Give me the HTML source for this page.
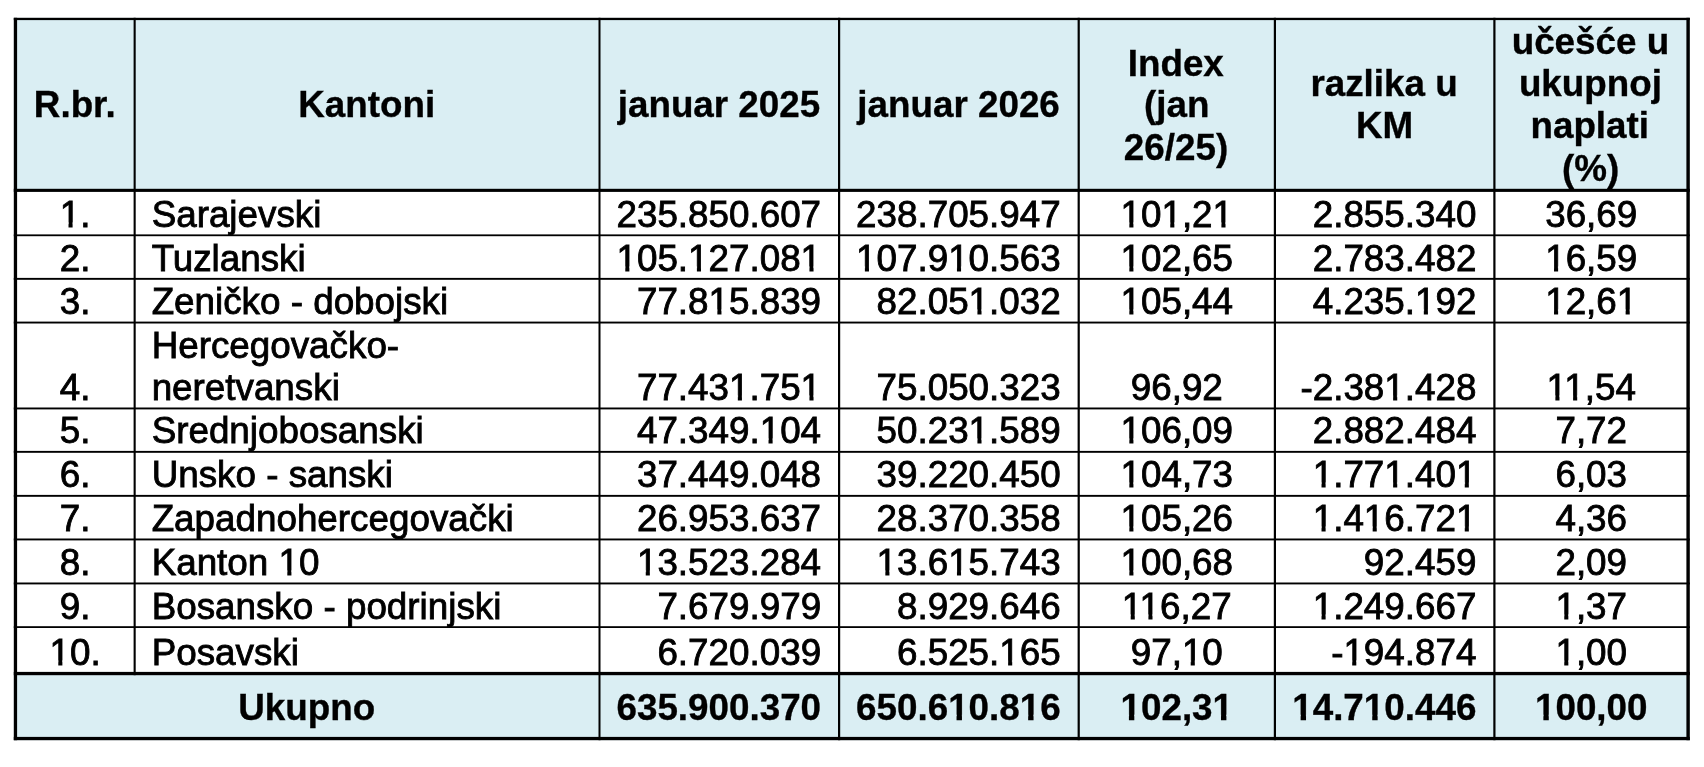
<!DOCTYPE html>
<html lang="bs">
<head>
<meta charset="utf-8">
<title>Naplata po kantonima</title>
<style>
html,body{margin:0;padding:0;background:#fff;}
body{width:1704px;height:767px;position:relative;overflow:hidden;font-family:"Liberation Sans",sans-serif;color:#000;}
#g,#tx{position:absolute;left:0;top:0;width:1704px;height:767px;}
#tx{will-change:transform;}
.t{position:absolute;white-space:nowrap;-webkit-text-stroke:0.85px #000;font-size:36.8px;line-height:42.0px;height:42.0px;margin:0;padding:0;}
.b{font-weight:bold;-webkit-text-stroke:0.35px #000;}
.c{text-align:center;}
.r{text-align:right;}
.l{text-align:left;}
</style>
</head>
<body>
<svg id="g" width="1704" height="767" viewBox="0 0 1704 767">
<rect x="13.8" y="17.8" width="1676" height="174.1" fill="#daeef3"/>
<rect x="13.8" y="671.9" width="1676" height="68.3" fill="#daeef3"/>
<g fill="#000">
<rect x="13.8" y="17.8" width="1676" height="2.3"/>
<rect x="13.8" y="188.8" width="1676" height="3.1"/>
<rect x="13.8" y="234.4" width="1676" height="1.8"/>
<rect x="13.8" y="277.9" width="1676" height="1.9"/>
<rect x="13.8" y="321.6" width="1676" height="1.9"/>
<rect x="13.8" y="407.5" width="1676" height="1.9"/>
<rect x="13.8" y="450.9" width="1676" height="1.9"/>
<rect x="13.8" y="494.9" width="1676" height="1.9"/>
<rect x="13.8" y="538.5" width="1676" height="1.9"/>
<rect x="13.8" y="582.5" width="1676" height="1.9"/>
<rect x="13.8" y="626.2" width="1676" height="1.8"/>
<rect x="13.8" y="671.9" width="1676" height="3.3"/>
<rect x="13.8" y="736.9" width="1676" height="3.3"/>
<rect x="13.8" y="17.8" width="3.3" height="722.4"/>
<rect x="133.6" y="17.8" width="2.1" height="657.4"/>
<rect x="598.5" y="17.8" width="2" height="722.4"/>
<rect x="838" y="17.8" width="2.2" height="722.4"/>
<rect x="1077.6" y="17.8" width="2.2" height="722.4"/>
<rect x="1273.8" y="17.8" width="2.2" height="722.4"/>
<rect x="1493.3" y="17.8" width="2.2" height="722.4"/>
<rect x="1686.4" y="17.8" width="3.4" height="722.4"/>
</g></svg>
<div id="tx">
<div class="t c b" style="left:15.15px;top:84px;width:119.20px">R.br.</div>
<div class="t c b" style="left:134.25px;top:84px;width:464.85px">Kantoni</div>
<div class="t c b" style="left:599.20px;top:84px;width:239.60px">januar 2025</div>
<div class="t c b" style="left:838.80px;top:84px;width:239.60px">januar 2026</div>
<div class="t c b" style="left:1077.70px;top:43px;width:196.20px">Index</div>
<div class="t c b" style="left:1078.60px;top:84px;width:196.20px">(jan</div>
<div class="t c b" style="left:1077.90px;top:127px;width:196.20px">26/25)</div>
<div class="t c b" style="left:1274.30px;top:63px;width:219.50px">razlika u</div>
<div class="t c b" style="left:1274.90px;top:105px;width:219.50px">KM</div>
<div class="t c b" style="left:1493.60px;top:21px;width:193.70px">učešće u</div>
<div class="t c b" style="left:1493.60px;top:63px;width:193.70px">ukupnoj</div>
<div class="t c b" style="left:1492.90px;top:105px;width:193.70px">naplati</div>
<div class="t c b" style="left:1493.70px;top:148px;width:193.70px">(%)</div>
<div class="t l" style="left:151.65px;top:325px;width:447.85px">Hercegovačko-</div>
<div class="t c" style="left:15.45px;top:194px;width:119.20px">1.</div>
<div class="t l" style="left:151.65px;top:194px;width:447.85px">Sarajevski</div>
<div class="t r" style="left:599.50px;top:194px;width:221.60px">235.850.607</div>
<div class="t r" style="left:839.10px;top:194px;width:221.60px">238.705.947</div>
<div class="t c" style="left:1078.70px;top:194px;width:196.20px">101,21</div>
<div class="t r" style="left:1274.90px;top:194px;width:201.50px">2.855.340</div>
<div class="t c" style="left:1494.40px;top:194px;width:193.70px">36,69</div>
<div class="t c" style="left:15.45px;top:238px;width:119.20px">2.</div>
<div class="t l" style="left:151.65px;top:238px;width:447.85px">Tuzlanski</div>
<div class="t r" style="left:599.50px;top:238px;width:221.60px">105.127.081</div>
<div class="t r" style="left:839.10px;top:238px;width:221.60px">107.910.563</div>
<div class="t c" style="left:1078.70px;top:238px;width:196.20px">102,65</div>
<div class="t r" style="left:1274.90px;top:238px;width:201.50px">2.783.482</div>
<div class="t c" style="left:1494.40px;top:238px;width:193.70px">16,59</div>
<div class="t c" style="left:15.45px;top:281px;width:119.20px">3.</div>
<div class="t l" style="left:151.65px;top:281px;width:447.85px">Zeničko - dobojski</div>
<div class="t r" style="left:599.50px;top:281px;width:221.60px">77.815.839</div>
<div class="t r" style="left:839.10px;top:281px;width:221.60px">82.051.032</div>
<div class="t c" style="left:1078.70px;top:281px;width:196.20px">105,44</div>
<div class="t r" style="left:1274.90px;top:281px;width:201.50px">4.235.192</div>
<div class="t c" style="left:1494.40px;top:281px;width:193.70px">12,61</div>
<div class="t c" style="left:15.45px;top:367px;width:119.20px">4.</div>
<div class="t l" style="left:151.65px;top:367px;width:447.85px">neretvanski</div>
<div class="t r" style="left:599.50px;top:367px;width:221.60px">77.431.751</div>
<div class="t r" style="left:839.10px;top:367px;width:221.60px">75.050.323</div>
<div class="t c" style="left:1078.70px;top:367px;width:196.20px">96,92</div>
<div class="t r" style="left:1274.90px;top:367px;width:201.50px">-2.381.428</div>
<div class="t c" style="left:1494.40px;top:367px;width:193.70px">11,54</div>
<div class="t c" style="left:15.45px;top:410px;width:119.20px">5.</div>
<div class="t l" style="left:151.65px;top:410px;width:447.85px">Srednjobosanski</div>
<div class="t r" style="left:599.50px;top:410px;width:221.60px">47.349.104</div>
<div class="t r" style="left:839.10px;top:410px;width:221.60px">50.231.589</div>
<div class="t c" style="left:1078.70px;top:410px;width:196.20px">106,09</div>
<div class="t r" style="left:1274.90px;top:410px;width:201.50px">2.882.484</div>
<div class="t c" style="left:1494.40px;top:410px;width:193.70px">7,72</div>
<div class="t c" style="left:15.45px;top:454px;width:119.20px">6.</div>
<div class="t l" style="left:151.65px;top:454px;width:447.85px">Unsko - sanski</div>
<div class="t r" style="left:599.50px;top:454px;width:221.60px">37.449.048</div>
<div class="t r" style="left:839.10px;top:454px;width:221.60px">39.220.450</div>
<div class="t c" style="left:1078.70px;top:454px;width:196.20px">104,73</div>
<div class="t r" style="left:1274.90px;top:454px;width:201.50px">1.771.401</div>
<div class="t c" style="left:1494.40px;top:454px;width:193.70px">6,03</div>
<div class="t c" style="left:15.45px;top:498px;width:119.20px">7.</div>
<div class="t l" style="left:151.65px;top:498px;width:447.85px">Zapadnohercegovački</div>
<div class="t r" style="left:599.50px;top:498px;width:221.60px">26.953.637</div>
<div class="t r" style="left:839.10px;top:498px;width:221.60px">28.370.358</div>
<div class="t c" style="left:1078.70px;top:498px;width:196.20px">105,26</div>
<div class="t r" style="left:1274.90px;top:498px;width:201.50px">1.416.721</div>
<div class="t c" style="left:1494.40px;top:498px;width:193.70px">4,36</div>
<div class="t c" style="left:15.45px;top:542px;width:119.20px">8.</div>
<div class="t l" style="left:151.65px;top:542px;width:447.85px">Kanton 10</div>
<div class="t r" style="left:599.50px;top:542px;width:221.60px">13.523.284</div>
<div class="t r" style="left:839.10px;top:542px;width:221.60px">13.615.743</div>
<div class="t c" style="left:1078.70px;top:542px;width:196.20px">100,68</div>
<div class="t r" style="left:1274.90px;top:542px;width:201.50px">92.459</div>
<div class="t c" style="left:1494.40px;top:542px;width:193.70px">2,09</div>
<div class="t c" style="left:15.45px;top:586px;width:119.20px">9.</div>
<div class="t l" style="left:151.65px;top:586px;width:447.85px">Bosansko - podrinjski</div>
<div class="t r" style="left:599.50px;top:586px;width:221.60px">7.679.979</div>
<div class="t r" style="left:839.10px;top:586px;width:221.60px">8.929.646</div>
<div class="t c" style="left:1078.70px;top:586px;width:196.20px">116,27</div>
<div class="t r" style="left:1274.90px;top:586px;width:201.50px">1.249.667</div>
<div class="t c" style="left:1494.40px;top:586px;width:193.70px">1,37</div>
<div class="t c" style="left:15.45px;top:632px;width:119.20px">10.</div>
<div class="t l" style="left:151.65px;top:632px;width:447.85px">Posavski</div>
<div class="t r" style="left:599.50px;top:632px;width:221.60px">6.720.039</div>
<div class="t r" style="left:839.10px;top:632px;width:221.60px">6.525.165</div>
<div class="t c" style="left:1078.70px;top:632px;width:196.20px">97,10</div>
<div class="t r" style="left:1274.90px;top:632px;width:201.50px">-194.874</div>
<div class="t c" style="left:1494.40px;top:632px;width:193.70px">1,00</div>
<div class="t c b" style="left:14.65px;top:687px;width:584.05px">Ukupno</div>
<div class="t r b" style="left:599.50px;top:687px;width:221.60px">635.900.370</div>
<div class="t r b" style="left:839.10px;top:687px;width:221.60px">650.610.816</div>
<div class="t c b" style="left:1078.70px;top:687px;width:196.20px">102,31</div>
<div class="t r b" style="left:1274.90px;top:687px;width:201.50px">14.710.446</div>
<div class="t c b" style="left:1494.40px;top:687px;width:193.70px">100,00</div>
</div>
<svg id="m" width="1704" height="767" viewBox="0 0 1704 767" style="position:absolute;left:0;top:0">
<rect x="60.65" y="222.43" width="7.85" height="6.40" fill="#ffffff"/>
<rect x="72.60" y="222.43" width="7.56" height="6.40" fill="#ffffff"/>
<rect x="1121.48" y="222.43" width="7.85" height="6.40" fill="#ffffff"/>
<rect x="1133.43" y="222.43" width="7.56" height="6.40" fill="#ffffff"/>
<rect x="1162.40" y="222.43" width="7.85" height="6.40" fill="#ffffff"/>
<rect x="1174.35" y="222.43" width="7.56" height="6.40" fill="#ffffff"/>
<rect x="1213.56" y="222.43" width="7.85" height="6.40" fill="#ffffff"/>
<rect x="1225.51" y="222.43" width="7.56" height="6.40" fill="#ffffff"/>
<rect x="617.43" y="266.43" width="7.85" height="6.40" fill="#ffffff"/>
<rect x="629.38" y="266.43" width="7.56" height="6.40" fill="#ffffff"/>
<rect x="689.04" y="266.43" width="7.85" height="6.40" fill="#ffffff"/>
<rect x="700.99" y="266.43" width="7.56" height="6.40" fill="#ffffff"/>
<rect x="801.59" y="266.43" width="7.85" height="6.40" fill="#ffffff"/>
<rect x="813.54" y="266.43" width="7.56" height="6.40" fill="#ffffff"/>
<rect x="857.03" y="266.43" width="7.85" height="6.40" fill="#ffffff"/>
<rect x="868.98" y="266.43" width="7.56" height="6.40" fill="#ffffff"/>
<rect x="949.10" y="266.43" width="7.85" height="6.40" fill="#ffffff"/>
<rect x="961.06" y="266.43" width="7.56" height="6.40" fill="#ffffff"/>
<rect x="1121.48" y="266.43" width="7.85" height="6.40" fill="#ffffff"/>
<rect x="1133.43" y="266.43" width="7.56" height="6.40" fill="#ffffff"/>
<rect x="1546.17" y="266.43" width="7.85" height="6.40" fill="#ffffff"/>
<rect x="1558.12" y="266.43" width="7.56" height="6.40" fill="#ffffff"/>
<rect x="709.51" y="309.43" width="7.85" height="6.40" fill="#ffffff"/>
<rect x="721.46" y="309.43" width="7.56" height="6.40" fill="#ffffff"/>
<rect x="969.57" y="309.43" width="7.85" height="6.40" fill="#ffffff"/>
<rect x="981.52" y="309.43" width="7.56" height="6.40" fill="#ffffff"/>
<rect x="1121.48" y="309.43" width="7.85" height="6.40" fill="#ffffff"/>
<rect x="1133.43" y="309.43" width="7.56" height="6.40" fill="#ffffff"/>
<rect x="1415.96" y="309.43" width="7.85" height="6.40" fill="#ffffff"/>
<rect x="1427.92" y="309.43" width="7.56" height="6.40" fill="#ffffff"/>
<rect x="1546.17" y="309.43" width="7.85" height="6.40" fill="#ffffff"/>
<rect x="1558.12" y="309.43" width="7.56" height="6.40" fill="#ffffff"/>
<rect x="1617.77" y="309.43" width="7.85" height="6.40" fill="#ffffff"/>
<rect x="1629.73" y="309.43" width="7.56" height="6.40" fill="#ffffff"/>
<rect x="729.98" y="395.43" width="7.85" height="6.40" fill="#ffffff"/>
<rect x="741.93" y="395.43" width="7.56" height="6.40" fill="#ffffff"/>
<rect x="801.59" y="395.43" width="7.85" height="6.40" fill="#ffffff"/>
<rect x="813.54" y="395.43" width="7.56" height="6.40" fill="#ffffff"/>
<rect x="1385.27" y="395.43" width="7.85" height="6.40" fill="#ffffff"/>
<rect x="1397.23" y="395.43" width="7.56" height="6.40" fill="#ffffff"/>
<rect x="1547.52" y="395.43" width="7.85" height="6.40" fill="#ffffff"/>
<rect x="1559.48" y="395.43" width="7.56" height="6.40" fill="#ffffff"/>
<rect x="1565.24" y="395.43" width="7.85" height="6.40" fill="#ffffff"/>
<rect x="1577.20" y="395.43" width="7.56" height="6.40" fill="#ffffff"/>
<rect x="760.67" y="438.43" width="7.85" height="6.40" fill="#ffffff"/>
<rect x="772.62" y="438.43" width="7.56" height="6.40" fill="#ffffff"/>
<rect x="969.57" y="438.43" width="7.85" height="6.40" fill="#ffffff"/>
<rect x="981.52" y="438.43" width="7.56" height="6.40" fill="#ffffff"/>
<rect x="1121.48" y="438.43" width="7.85" height="6.40" fill="#ffffff"/>
<rect x="1133.43" y="438.43" width="7.56" height="6.40" fill="#ffffff"/>
<rect x="1121.48" y="482.43" width="7.85" height="6.40" fill="#ffffff"/>
<rect x="1133.43" y="482.43" width="7.56" height="6.40" fill="#ffffff"/>
<rect x="1313.67" y="482.43" width="7.85" height="6.40" fill="#ffffff"/>
<rect x="1325.62" y="482.43" width="7.56" height="6.40" fill="#ffffff"/>
<rect x="1385.27" y="482.43" width="7.85" height="6.40" fill="#ffffff"/>
<rect x="1397.23" y="482.43" width="7.56" height="6.40" fill="#ffffff"/>
<rect x="1456.90" y="482.43" width="7.85" height="6.40" fill="#ffffff"/>
<rect x="1468.85" y="482.43" width="7.56" height="6.40" fill="#ffffff"/>
<rect x="1121.48" y="526.43" width="7.85" height="6.40" fill="#ffffff"/>
<rect x="1133.43" y="526.43" width="7.56" height="6.40" fill="#ffffff"/>
<rect x="1313.67" y="526.43" width="7.85" height="6.40" fill="#ffffff"/>
<rect x="1325.62" y="526.43" width="7.56" height="6.40" fill="#ffffff"/>
<rect x="1364.81" y="526.43" width="7.85" height="6.40" fill="#ffffff"/>
<rect x="1376.76" y="526.43" width="7.56" height="6.40" fill="#ffffff"/>
<rect x="1456.90" y="526.43" width="7.85" height="6.40" fill="#ffffff"/>
<rect x="1468.85" y="526.43" width="7.56" height="6.40" fill="#ffffff"/>
<rect x="279.46" y="570.43" width="7.85" height="6.40" fill="#ffffff"/>
<rect x="291.42" y="570.43" width="7.56" height="6.40" fill="#ffffff"/>
<rect x="637.90" y="570.43" width="7.85" height="6.40" fill="#ffffff"/>
<rect x="649.85" y="570.43" width="7.56" height="6.40" fill="#ffffff"/>
<rect x="877.49" y="570.43" width="7.85" height="6.40" fill="#ffffff"/>
<rect x="889.45" y="570.43" width="7.56" height="6.40" fill="#ffffff"/>
<rect x="949.10" y="570.43" width="7.85" height="6.40" fill="#ffffff"/>
<rect x="961.06" y="570.43" width="7.56" height="6.40" fill="#ffffff"/>
<rect x="1121.48" y="570.43" width="7.85" height="6.40" fill="#ffffff"/>
<rect x="1133.43" y="570.43" width="7.56" height="6.40" fill="#ffffff"/>
<rect x="1122.84" y="614.43" width="7.85" height="6.40" fill="#ffffff"/>
<rect x="1134.79" y="614.43" width="7.56" height="6.40" fill="#ffffff"/>
<rect x="1140.56" y="614.43" width="7.85" height="6.40" fill="#ffffff"/>
<rect x="1152.51" y="614.43" width="7.56" height="6.40" fill="#ffffff"/>
<rect x="1313.67" y="614.43" width="7.85" height="6.40" fill="#ffffff"/>
<rect x="1325.62" y="614.43" width="7.56" height="6.40" fill="#ffffff"/>
<rect x="1556.40" y="614.43" width="7.85" height="6.40" fill="#ffffff"/>
<rect x="1568.35" y="614.43" width="7.56" height="6.40" fill="#ffffff"/>
<rect x="50.43" y="660.43" width="7.85" height="6.40" fill="#ffffff"/>
<rect x="62.38" y="660.43" width="7.56" height="6.40" fill="#ffffff"/>
<rect x="1000.26" y="660.43" width="7.85" height="6.40" fill="#ffffff"/>
<rect x="1012.21" y="660.43" width="7.56" height="6.40" fill="#ffffff"/>
<rect x="1182.85" y="660.43" width="7.85" height="6.40" fill="#ffffff"/>
<rect x="1194.81" y="660.43" width="7.56" height="6.40" fill="#ffffff"/>
<rect x="1344.35" y="660.43" width="7.85" height="6.40" fill="#ffffff"/>
<rect x="1356.31" y="660.43" width="7.56" height="6.40" fill="#ffffff"/>
<rect x="1556.40" y="660.43" width="7.85" height="6.40" fill="#ffffff"/>
<rect x="1568.35" y="660.43" width="7.56" height="6.40" fill="#ffffff"/>
<rect x="948.87" y="714.67" width="7.67" height="6.91" fill="#daeef3"/>
<rect x="961.94" y="714.67" width="7.20" height="6.91" fill="#daeef3"/>
<rect x="1020.48" y="714.67" width="7.67" height="6.91" fill="#daeef3"/>
<rect x="1033.55" y="714.67" width="7.20" height="6.91" fill="#daeef3"/>
<rect x="1121.24" y="714.67" width="7.67" height="6.91" fill="#daeef3"/>
<rect x="1134.31" y="714.67" width="7.20" height="6.91" fill="#daeef3"/>
<rect x="1213.32" y="714.67" width="7.67" height="6.91" fill="#daeef3"/>
<rect x="1226.39" y="714.67" width="7.20" height="6.91" fill="#daeef3"/>
<rect x="1292.96" y="714.67" width="7.67" height="6.91" fill="#daeef3"/>
<rect x="1306.03" y="714.67" width="7.20" height="6.91" fill="#daeef3"/>
<rect x="1364.57" y="714.67" width="7.67" height="6.91" fill="#daeef3"/>
<rect x="1377.64" y="714.67" width="7.20" height="6.91" fill="#daeef3"/>
<rect x="1535.70" y="714.67" width="7.67" height="6.91" fill="#daeef3"/>
<rect x="1548.77" y="714.67" width="7.20" height="6.91" fill="#daeef3"/>
</svg>
</body>
</html>
